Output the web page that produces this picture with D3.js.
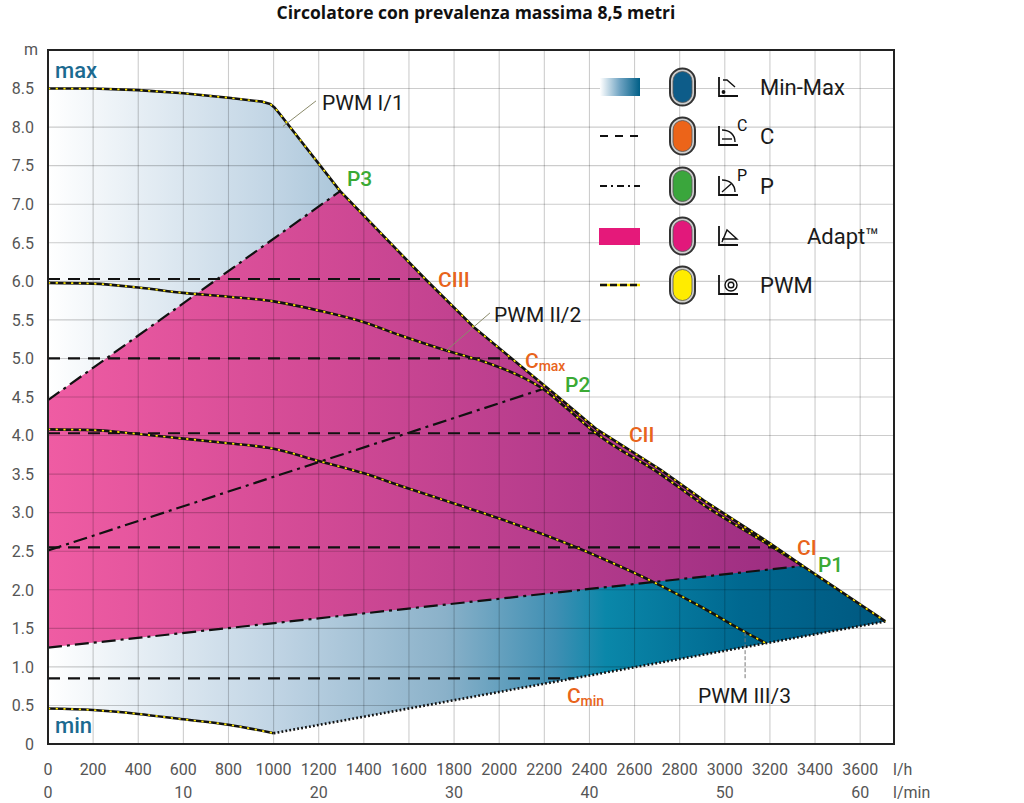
<!DOCTYPE html>
<html><head><meta charset="utf-8">
<script src="https://cdn.jsdelivr.net/npm/d3@7"></script>
<style>body{margin:0;background:#fff}svg{display:block}</style>
</head><body>
<svg id="c" width="1024" height="803"></svg>
<script>
// ---------------- DATA ----------------
const flowTicks = d3.range(0, 3601, 200);             // l/h
const flowMinTicks = [0, 10, 20, 30, 40, 50, 60];     // l/min
const headTicks = d3.range(0, 8.51, 0.5);             // m
const headTickLabels = ["0","0.5","1.0","1.5","2.0","2.5","3.0","3.5","4.0","4.5","5.0","5.5","6.0","6.5","7.0","7.5","8.0","8.5"];

// maximum curve (PWM I/1)  [flow l/h, head m]
const maxCurve = [[0,8.5],[200,8.5],[400,8.48],[600,8.44],[800,8.38],[950,8.33],[985,8.30],[1005,8.25],[1025,8.18],
  [1295,7.17],[1672,6.03],[1893,5.39],[2063,4.98],[2250,4.53],[2433,4.08],[2714,3.56],[2906,3.16],[3202,2.60],[3345,2.31],[3712,1.59]];
// minimum PWM curve
const minPWM = [[0,0.46],[200,0.44],[400,0.39],[600,0.32],[800,0.25],[1000,0.14]];
// minimum dotted limit
const minDotted = [[1000,0.14],[3712,1.59]];
// PWM II/2
const pwm2 = [[0,5.98],[200,5.97],[400,5.92],[600,5.85],[800,5.80],[1000,5.74],[1200,5.62],[1400,5.47],[1561,5.30],
  [1768,5.10],[1930,4.96],[2100,4.76],[2196,4.60],[2300,4.35],[2433,4.02],[2714,3.50],[2906,3.10],[3202,2.57],[3345,2.31]];
// PWM III/3
const pwm3 = [[0,4.08],[200,4.07],[400,4.02],[600,3.96],[800,3.90],[1000,3.83],[1200,3.67],[1400,3.51],[1561,3.35],
  [1800,3.12],[2004,2.92],[2300,2.60],[2500,2.35],[2684,2.10],[2900,1.77],[3091,1.45],[3180,1.31]];
// proportional pressure lines P1, P2, P3
const pLines = [
  {name:"P1", pts:[[0,1.25],[3345,2.31]]},
  {name:"P2", pts:[[0,2.51],[2200,4.61]]},
  {name:"P3", pts:[[0,4.46],[1295,7.17]]}
];
// constant pressure levels
const cLevels = [
  {name:"CIII", h:6.03, limit:"max"},
  {name:"Cmax", h:5.0, limit:"max"},
  {name:"CII", h:4.03, limit:"max"},
  {name:"CI", h:2.55, limit:"max"},
  {name:"Cmin", h:0.85, limit:"min"}
];
// annotation labels [text, flow, head, color, sub]
const labels = [
  ["PWM I/1", 1215, 8.22, "#1a1a1a", null],
  ["P3", 1325, 7.24, "#3aaa35", null],
  ["CIII", 1729, 5.93, "#e8641b", null],
  ["PWM II/2", 1977, 5.47, "#1a1a1a", null],
  ["C", 2114, 4.87, "#e8641b", "max"],
  ["P2", 2292, 4.56, "#3aaa35", null],
  ["CII", 2575, 3.92, "#e8641b", null],
  ["CI", 3320, 2.45, "#e8641b", null],
  ["P1", 3413, 2.23, "#3aaa35", null],
  ["C", 2300, 0.53, "#e8641b", "min"],
  ["PWM III/3", 2881, 0.53, "#1a1a1a", null]
];
const leaders = [
  [[1042,8.01],[1188,8.34]],
  [[1764,5.10],[1959,5.59]],
  [[3090,1.45],[3090,0.83]]
];
const legendItems = [
  {label:"Min-Max", color:"#0d5c89", sample:"gradient", icon:"minmax"},
  {label:"C", color:"#ec6419", sample:"dash", icon:"c", sup:"C"},
  {label:"P", color:"#3aa63c", sample:"dashdot", icon:"p", sup:"P"},
  {label:"Adapt™", color:"#e2187b", sample:"rect", icon:"adapt"},
  {label:"PWM", color:"#ffec00", sample:"pwm", icon:"pwm"}
];

// ---------------- CHART ----------------
const svg = d3.select("#c");
const x = d3.scaleLinear().domain([0,3750]).range([48,894]);
const y = d3.scaleLinear().domain([0,9]).range([744,50]);
const FONT = "Roboto, 'DejaVu Sans', sans-serif";

const defs = svg.append("defs");
const gBlue = defs.append("linearGradient").attr("id","gBlue").attr("gradientUnits","userSpaceOnUse")
  .attr("x1",x(0)).attr("x2",x(3750)).attr("y1",0).attr("y2",0);
[[0,"#ffffff"],[0.27,"#c0d4e4"],[0.47,"#8ab1c9"],[0.6,"#3f8fb3"],[0.66,"#0a87a9"],[0.82,"#006890"],[1,"#00577f"]]
  .forEach(s=>gBlue.append("stop").attr("offset",s[0]).attr("stop-color",s[1]));
const gMag = defs.append("linearGradient").attr("id","gMag").attr("gradientUnits","userSpaceOnUse")
  .attr("x1",x(0)).attr("x2",x(3400)).attr("y1",0).attr("y2",0);
[[0,"#ef5ca3"],[0.35,"#d24a95"],[0.7,"#b23a8b"],[1,"#9a2c80"]]
  .forEach(s=>gMag.append("stop").attr("offset",s[0]).attr("stop-color",s[1]));
const gLeg = defs.append("linearGradient").attr("id","gLeg").attr("x1",0).attr("x2",1);
[[0,"#ffffff"],[0.5,"#6fa3c2"],[1,"#005f87"]].forEach(s=>gLeg.append("stop").attr("offset",s[0]).attr("stop-color",s[1]));

function seg(points, curve){ return d3.line().x(d=>x(d[0])).y(d=>y(d[1])).curve(curve||d3.curveLinear)(points); }
function join(){ return Array.from(arguments).map((p,i)=> i ? p.replace(/^M/,"L") : p).join("") + "Z"; }
function crossAt(level, pts){
  for(let i=0;i<pts.length-1;i++){
    const a=pts[i], b=pts[i+1];
    if((a[1]-level)*(b[1]-level)<=0 && a[1]!==b[1]) return a[0]+(level-a[1])*(b[0]-a[0])/(b[1]-a[1]);
  }
  return pts[pts.length-1][0];
}

// blue min-max region
svg.append("path").attr("fill","url(#gBlue)")
  .attr("d", join(seg(maxCurve), seg(minDotted.slice().reverse()), seg(minPWM.slice().reverse(), d3.curveMonotoneX)));
// magenta adapt region
const P1 = pLines[0].pts, P3 = pLines[2].pts;
const maxSub = maxCurve.filter(d=>d[0]>=P3[1][0] && d[0]<=P1[1][0]);
svg.append("path").attr("fill","url(#gMag)")
  .attr("d", join(seg(P3), seg(maxSub), seg(P1.slice().reverse())));

// grid
const grid = svg.append("g").attr("stroke","rgba(0,0,0,0.2)").attr("stroke-width",1.1);
flowTicks.filter(d=>d>0).forEach(d=>grid.append("line").attr("x1",x(d)).attr("x2",x(d)).attr("y1",y(0)).attr("y2",y(9)));
headTicks.filter(d=>d>0).forEach(d=>grid.append("line").attr("x1",x(0)).attr("x2",x(3750)).attr("y1",y(d)).attr("y2",y(d)));

// C dashed lines
cLevels.forEach(c=>{
  const q = crossAt(c.h, c.limit==="max" ? maxCurve : minDotted);
  svg.append("path").attr("d", seg([[0,c.h],[q,c.h]])).attr("fill","none")
    .attr("stroke","#111").attr("stroke-width",2.2).attr("stroke-dasharray","12,8");
});
// P dash-dot lines
pLines.forEach(p=>{
  svg.append("path").attr("d", seg(p.pts)).attr("fill","none")
    .attr("stroke","#111").attr("stroke-width",2.2).attr("stroke-dasharray","14,5,3,5");
});
// min dotted line
svg.append("path").attr("d", seg(minDotted)).attr("fill","none")
  .attr("stroke","#111").attr("stroke-width",2.6).attr("stroke-dasharray","1.8,2.2");

// PWM curves
function pwmLine(pts, curve){
  const d = seg(pts, curve);
  svg.append("path").attr("d",d).attr("fill","none").attr("stroke","#111").attr("stroke-width",2.6).attr("stroke-linejoin","round");
  svg.append("path").attr("d",d).attr("fill","none").attr("stroke","#ffe800").attr("stroke-width",1.7).attr("stroke-dasharray","2.2,5.5");
}
pwmLine(pwm3, d3.curveMonotoneX);
pwmLine(pwm2, d3.curveMonotoneX);
pwmLine(minPWM, d3.curveMonotoneX);
pwmLine(maxCurve);

// leaders
leaders.forEach((l,i)=>{
  svg.append("path").attr("d", seg(l)).attr("fill","none").attr("stroke", i===2 ? "#777" : "#8a8a6a")
    .attr("stroke-width",1).attr("stroke-dasharray", i===2 ? "4,2" : null);
});

// border
svg.append("rect").attr("x",x(0)).attr("y",y(9)).attr("width",x(3750)-x(0)).attr("height",y(0)-y(9))
  .attr("fill","none").attr("stroke","#222").attr("stroke-width",2);

// axis labels
const ax = svg.append("g").attr("font-family",FONT).attr("fill","#555").attr("font-size",16);
headTicks.forEach((d,i)=>ax.append("text").attr("x",34).attr("y",y(d)).attr("dy","0.36em").attr("text-anchor","end").text(headTickLabels[i]));
ax.append("text").attr("x",31).attr("y",55).attr("text-anchor","middle").text("m");
flowTicks.forEach(d=>ax.append("text").attr("x",x(d)).attr("y",775).attr("text-anchor","middle").text(d));
flowMinTicks.forEach(d=>ax.append("text").attr("x",x(d*60)).attr("y",798).attr("text-anchor","middle").text(d));
ax.append("text").attr("x",893).attr("y",775).text("l/h");
ax.append("text").attr("x",893).attr("y",798).text("l/min");

// max / min
svg.append("text").attr("x",x(31)).attr("y",y(8.64)).attr("font-family",FONT).attr("font-size",22).attr("font-weight",500).attr("fill","#1b6a90").text("max");
svg.append("text").attr("x",x(31)).attr("y",y(0.14)).attr("font-family",FONT).attr("font-size",22).attr("font-weight",500).attr("fill","#1b6a90").text("min");

// annotation labels
labels.forEach(l=>{
  const t = svg.append("text").attr("x",x(l[1])).attr("y",y(l[2])).attr("font-family",FONT)
    .attr("font-size",21).attr("font-weight", l[3]==="#1a1a1a" ? 400 : 500).attr("fill",l[3]).text(l[0]);
  if(l[4]) t.append("tspan").attr("font-size",14).attr("dy",3).text(l[4]);
});

// title
svg.append("text").attr("x",476).attr("y",19).attr("text-anchor","middle").attr("font-family","'Open Sans', sans-serif")
  .attr("font-weight",700).attr("font-size",17.5).attr("fill","#111").text("Circolatore con prevalenza massima 8,5 metri");

// legend
const rowY = [87,136,186,236,285];
legendItems.forEach((it,i)=>{
  const cy = rowY[i];
  const g = svg.append("g");
  if(it.sample==="gradient") g.append("rect").attr("x",600).attr("y",cy-9).attr("width",40).attr("height",18).attr("fill","url(#gLeg)");
  if(it.sample==="rect") g.append("rect").attr("x",599).attr("y",cy-8).attr("width",41).attr("height",17).attr("fill","#e5197a");
  if(it.sample==="dash") g.append("line").attr("x1",600).attr("x2",640).attr("y1",cy).attr("y2",cy).attr("stroke","#111").attr("stroke-width",2).attr("stroke-dasharray","8,7");
  if(it.sample==="dashdot") g.append("line").attr("x1",600).attr("x2",640).attr("y1",cy).attr("y2",cy).attr("stroke","#111").attr("stroke-width",2).attr("stroke-dasharray","7,4,2,4");
  if(it.sample==="pwm"){
    g.append("line").attr("x1",600).attr("x2",640).attr("y1",cy).attr("y2",cy).attr("stroke","#ffe800").attr("stroke-width",2.4);
    g.append("line").attr("x1",600).attr("x2",640).attr("y1",cy).attr("y2",cy).attr("stroke","#111").attr("stroke-width",2.4).attr("stroke-dasharray","7,3");
  }
  // pill
  g.append("rect").attr("x",670).attr("y",cy-18.5).attr("width",25).attr("height",37).attr("rx",12.5).attr("fill","#cfcfcf").attr("stroke","#333").attr("stroke-width",2);
  g.append("rect").attr("x",673).attr("y",cy-15.5).attr("width",19).attr("height",31).attr("rx",9.5).attr("fill",it.color).attr("stroke","#555").attr("stroke-width",0.8);
  // icon
  const ic = g.append("g").attr("transform",`translate(719,${cy-10})`).attr("fill","none").attr("stroke","#111").attr("stroke-width",1.8);
  ic.append("path").attr("d","M0,0V19H19");
  if(it.icon==="minmax"){ ic.append("path").attr("d","M4,3H8L16,10").attr("stroke-width",1.4); ic.append("circle").attr("cx",4.5).attr("cy",15).attr("r",1).attr("fill","#111"); }
  if(it.icon==="c"){ ic.append("path").attr("d","M3,4C11,4 16,9 16,16").attr("stroke-width",1.4); ic.append("path").attr("d","M3,13H13").attr("stroke-width",1.4); }
  if(it.icon==="p"){ ic.append("path").attr("d","M3,4C11,4 16,9 16,16").attr("stroke-width",1.4); ic.append("path").attr("d","M3,16L12,8").attr("stroke-width",1.4); }
  if(it.icon==="adapt"){ ic.append("path").attr("d","M3,16L8,4L18,13L3,13").attr("stroke-width",1.4); }
  if(it.icon==="pwm"){ ic.append("circle").attr("cx",12).attr("cy",10).attr("r",6).attr("stroke-width",1.4); ic.append("circle").attr("cx",12).attr("cy",10).attr("r",2.8).attr("stroke-width",1.4); }
  if(it.sup) g.append("text").attr("x",737).attr("y",cy-5).attr("font-family",FONT).attr("font-size",16).attr("fill","#111").text(it.sup);
  g.append("text").attr("x", it.label==="Adapt™" ? 807 : 760).attr("y",cy+8).attr("font-family",FONT).attr("font-size",22).attr("fill","#1a1a1a").text(it.label);
});
</script>
</body></html>
